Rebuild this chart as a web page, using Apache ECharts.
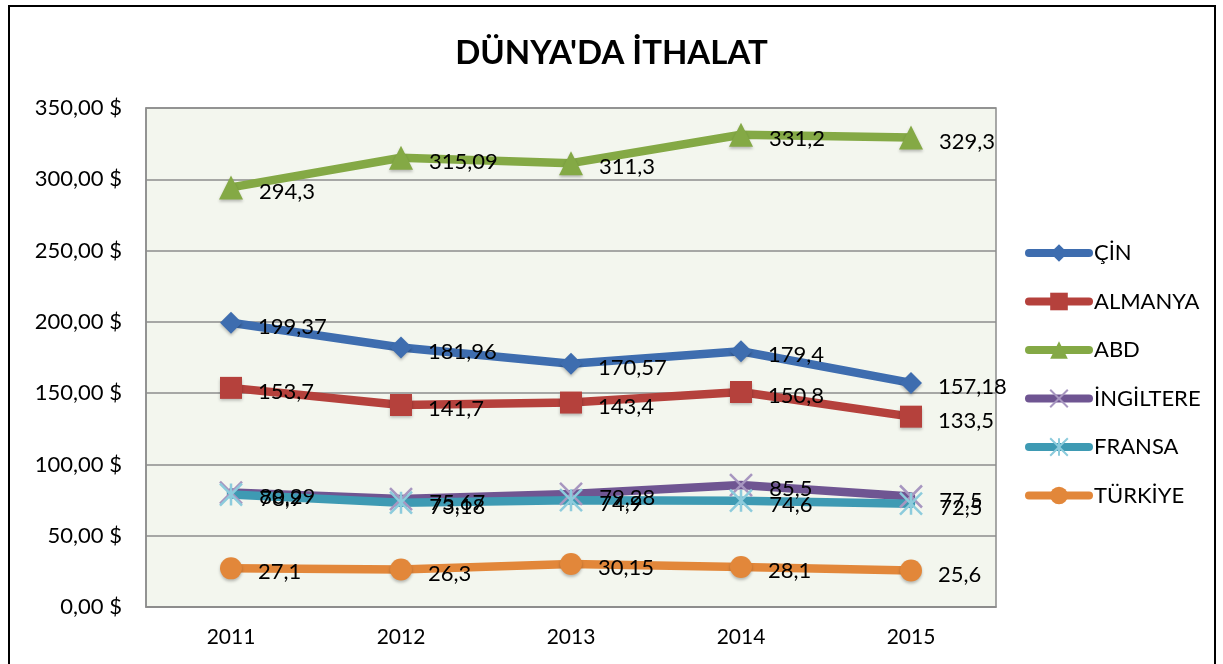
<!DOCTYPE html>
<html>
<head>
<meta charset="utf-8">
<script src="https://cdn.jsdelivr.net/npm/echarts@6/dist/echarts.min.js"></script>
<style>
  html, body { margin: 0; padding: 0; background: #fff; }
  #chart { width: 1223px; height: 664px; }
</style>
</head>
<body>
<div id="chart"></div>
<script>
var years = ['2011', '2012', '2013', '2014', '2015'];
var cin = [199.37, 181.96, 170.57, 179.4, 157.18];
var almanya = [153.7, 141.7, 143.4, 150.8, 133.5];
var abd = [294.3, 315.09, 311.3, 331.2, 329.3];
var ingiltere = [80.29, 75.67, 79.28, 85.5, 77.5];
var fransa = [78.9, 73.18, 74.9, 74.6, 72.5];
var turkiye = [27.1, 26.3, 30.15, 28.1, 25.6];

var font = 'Lato, "Open Sans", sans-serif';
var chart = echarts.init(document.getElementById('chart'));

function comma(v) { return String(v).replace('.', ','); }

function makeSeries(name, data, color, symbol, size, markColor) {
  return {
    name: name,
    type: 'line',
    data: data,
    symbol: symbol,
    symbolSize: size,
    showAllSymbol: true,
    lineStyle: { color: color, width: 8.5, cap: 'round' },
    itemStyle: markColor
      ? { color: markColor, borderColor: markColor, borderWidth: 2.5 }
      : { color: color, shadowColor: 'rgba(0,0,0,0.25)', shadowBlur: 3, shadowOffsetY: 2 },
    label: {
      show: true,
      position: 'right',
      distance: 16,
      offset: [0, 4],
      color: '#000',
      fontSize: 22,
      fontFamily: font,
      formatter: function (p) { return comma(p.value); }
    }
  };
}

var option = {
  animation: false,
  backgroundColor: '#fff',
  title: {
    text: "DÜNYA'DA İTHALAT",
    left: 'center',
    top: 32,
    textStyle: { fontSize: 33, fontWeight: 'bold', fontFamily: font, color: '#000' }
  },
  graphic: [{
    type: 'rect',
    shape: { x: 9, y: 6, width: 1206, height: 670 },
    style: { fill: null, stroke: '#000', lineWidth: 2 }
  }],
  legend: {
    orient: 'vertical',
    left: 1020,
    top: 237,
    itemWidth: 60,
    itemHeight: 22,
    itemGap: 26.5,
    lineStyle: { width: 8, cap: 'round' },
    textStyle: { fontSize: 22, fontFamily: font, color: '#000' },
    data: ['ÇİN', 'ALMANYA', 'ABD', 'İNGİLTERE', 'FRANSA', 'TÜRKİYE']
  },
  grid: {
    left: 146,
    right: 227,
    top: 108,
    bottom: 57,
    show: true,
    backgroundColor: '#f3f6ee',
    borderColor: '#8c8c8c',
    borderWidth: 1.5
  },
  xAxis: {
    type: 'category',
    data: years,
    boundaryGap: true,
    axisLine: { lineStyle: { color: '#8c8c8c', width: 1.5 } },
    axisTick: { show: false },
    axisLabel: { fontSize: 21, fontFamily: font, color: '#000', margin: 20 }
  },
  yAxis: {
    type: 'value',
    min: 0,
    max: 350,
    interval: 50,
    axisLine: { show: true, lineStyle: { color: '#8c8c8c', width: 1.5 } },
    splitLine: { lineStyle: { color: '#8c8c8c', width: 1.5 } },
    axisLabel: {
      fontSize: 22,
      fontFamily: font,
      color: '#000',
      margin: 24,
      formatter: function (v) { return v.toFixed(2).replace('.', ',') + ' $'; }
    }
  },
  series: [
    makeSeries('ÇİN', cin, '#3e6daf', 'diamond', 22),
    makeSeries('ALMANYA', almanya, '#b5413c', 'rect', 22),
    makeSeries('ABD', abd, '#84a945', 'triangle', 24),
    makeSeries('İNGİLTERE', ingiltere, '#6f5592', 'path://M0,0L10,10M10,0L0,10', 22, '#a796c0'),
    makeSeries('FRANSA', fransa, '#3e9ab3', 'path://M0,0L10,10M10,0L0,10M5,0L5,10', 22, '#8ccbdc'),
    makeSeries('TÜRKİYE', turkiye, '#e2873a', 'circle', 22)
  ]
};

chart.setOption(option);
</script>
</body>
</html>
